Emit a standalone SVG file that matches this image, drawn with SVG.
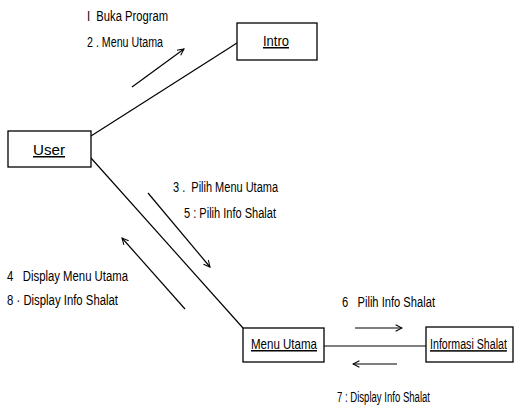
<svg xmlns="http://www.w3.org/2000/svg" width="516" height="410" viewBox="0 0 516 410">
<style>
.box{fill:#fff;stroke:#000;stroke-width:1.3}
.ln{fill:none;stroke:#000;stroke-width:1.2}
.lbl{font-family:"Liberation Sans",Arial,sans-serif;font-size:14px;fill:#000;white-space:pre}
.nm{font-family:"Liberation Sans",Arial,sans-serif;font-size:15px;fill:#000;text-decoration:underline}
</style>
<defs>
<marker id="ah" viewBox="0 0 10 10" refX="9" refY="5" markerWidth="8" markerHeight="8" markerUnits="userSpaceOnUse" orient="auto">
<path d="M1,1 L9,5 L1,9" fill="none" stroke="#000" stroke-width="1.3"/>
</marker>
</defs>
<rect width="516" height="410" fill="#fff"/>
<g id="connectors">
<line class="ln" x1="91" y1="136" x2="237" y2="43"/>
<line class="ln" x1="91" y1="158" x2="243" y2="328"/>
<line class="ln" x1="324" y1="346" x2="426" y2="346"/>
<line class="ln" x1="132" y1="87" x2="184" y2="49" marker-end="url(#ah)"/>
<line class="ln" x1="148" y1="193" x2="210" y2="267" marker-end="url(#ah)"/>
<line class="ln" x1="185" y1="309" x2="122" y2="238" marker-end="url(#ah)"/>
<line class="ln" x1="355" y1="328" x2="402" y2="328" marker-end="url(#ah)"/>
<line class="ln" x1="397" y1="364" x2="353" y2="364" marker-end="url(#ah)"/>
<text class="lbl" xml:space="preserve" x="87" y="21" textLength="81" lengthAdjust="spacingAndGlyphs">I  Buka Program</text>
<text class="lbl" xml:space="preserve" x="87" y="47" textLength="76" lengthAdjust="spacingAndGlyphs">2 . Menu Utama</text>
<text class="lbl" xml:space="preserve" x="173" y="192" textLength="105" lengthAdjust="spacingAndGlyphs">3 .  Pilih Menu Utama</text>
<text class="lbl" xml:space="preserve" x="184" y="218" textLength="92" lengthAdjust="spacingAndGlyphs">5 : Pilih Info Shalat</text>
<text class="lbl" xml:space="preserve" x="7" y="281" textLength="121" lengthAdjust="spacingAndGlyphs">4   Display Menu Utama</text>
<text class="lbl" xml:space="preserve" x="7" y="305" textLength="111" lengthAdjust="spacingAndGlyphs">8 · Display Info Shalat</text>
<text class="lbl" xml:space="preserve" x="342" y="307" textLength="93" lengthAdjust="spacingAndGlyphs">6   Pilih Info Shalat</text>
<text class="lbl" xml:space="preserve" x="337" y="402" textLength="93" lengthAdjust="spacingAndGlyphs">7 : Display Info Shalat</text>
</g>
<g id="intro">
<rect class="box" x="237" y="23" width="80" height="37"/>
<text class="nm" x="263" y="46" textLength="26" lengthAdjust="spacingAndGlyphs">Intro</text>
</g>
<g id="user">
<rect class="box" x="8" y="131" width="83" height="36"/>
<text class="nm" x="33" y="155" textLength="32" lengthAdjust="spacingAndGlyphs">User</text>
</g>
<g id="menu-utama">
<rect class="box" x="243" y="328" width="81" height="34"/>
<text class="nm" x="251" y="349" textLength="66" lengthAdjust="spacingAndGlyphs">Menu Utama</text>
</g>
<g id="informasi-shalat">
<rect class="box" x="426" y="327" width="87" height="35"/>
<text class="nm" transform="translate(430,349) scale(0.71,1)" x="0" y="0">Informasi Shalat</text>
</g>
</svg>
